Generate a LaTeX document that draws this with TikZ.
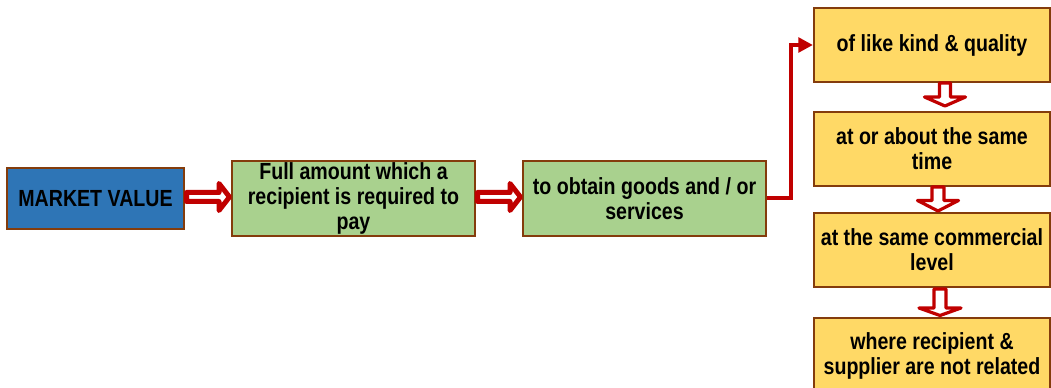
\documentclass[tikz,border=0pt]{standalone}
\usepackage{fontspec}
\setmainfont[FakeStretch=0.84]{Liberation Sans}
\usetikzlibrary{arrows.meta}
\definecolor{boxblue}{HTML}{2E75B6}
\definecolor{boxgreen}{HTML}{A9D18E}
\definecolor{boxyellow}{HTML}{FFD966}
\definecolor{boxedge}{HTML}{843C0C}
\definecolor{arrred}{HTML}{C00000}
\begin{document}
\begin{tikzpicture}[x=0.75pt,y=-0.75pt,
  box/.style={draw=boxedge,line width=1.6pt,align=center,font=\bfseries\fontsize{17.5}{18.8}\selectfont,inner sep=0pt},
  harrow/.style={draw=arrred,fill=white,line width=3.75pt,line join=round},
  varrow/.style={draw=arrred,fill=white,line width=2.4pt,line join=round},
  conn/.style={draw=arrred,line width=3pt,-{Triangle[length=11pt,width=11pt]}}]
\useasboundingbox (0,0) rectangle (1051,388);
\clip (0,0) rectangle (1051,388);
% nodes
\node[box,fill=boxblue,minimum width=177*0.75pt,minimum height=61*0.75pt] (mv) at (95.5,198.5) {MARKET VALUE};
\node[box,fill=boxgreen,minimum width=243*0.75pt,minimum height=75*0.75pt] (full) at (353.5,198.5) {Full amount which a\\recipient is required to\\pay};
\node[box,fill=boxgreen,minimum width=243*0.75pt,minimum height=75*0.75pt] (obtain) at (644.5,198.5) {to obtain goods and / or\\services};
\node[box,fill=boxyellow,minimum width=236*0.75pt,minimum height=74*0.75pt] (y1) at (932,45) {of like kind \& quality};
\node[box,fill=boxyellow,minimum width=236*0.75pt,minimum height=74*0.75pt] (y2) at (932,149) {at or about the same\\time};
\node[box,fill=boxyellow,minimum width=236*0.75pt,minimum height=74*0.75pt] (y3) at (932,250) {at the same commercial\\level};
\node[box,fill=boxyellow,minimum width=236*0.75pt,minimum height=76*0.75pt] (y4) at (932,356) {where recipient \&\\supplier are not related};
% horizontal block arrows
\foreach \dx in {0,291}{
  \begin{scope}[xshift=\dx*0.75pt]
  \draw[harrow] (186.5,192.5) -- (219,192.5) -- (219,183.5) -- (229.5,197) -- (219,210.5) -- (219,201.5) -- (186.5,201.5) -- cycle;
  \end{scope}
}
% connector
\coordinate (bend) at (791,45);
\draw[conn] (obtain.east) -| (bend) -- (y1.west);
% vertical block arrows
\draw[varrow] (945,83) ++(-5.5,0) -- ++(0,14) -- ++(-15,0) -- (945,106) -- ++(20.5,-9) -- ++(-15,0) -- ++(0,-14) -- cycle;
\draw[varrow] (938,187) ++(-6,0) -- ++(0,13.5) -- ++(-14.5,0) -- (938,211) -- ++(20.5,-10.5) -- ++(-14.5,0) -- ++(0,-13.5) -- cycle;
\draw[varrow] (940,289) ++(-6,0) -- ++(0,19) -- ++(-15,0) -- (940,315.5) -- ++(21,-7.5) -- ++(-15,0) -- ++(0,-19) -- cycle;
\end{tikzpicture}
\end{document}
